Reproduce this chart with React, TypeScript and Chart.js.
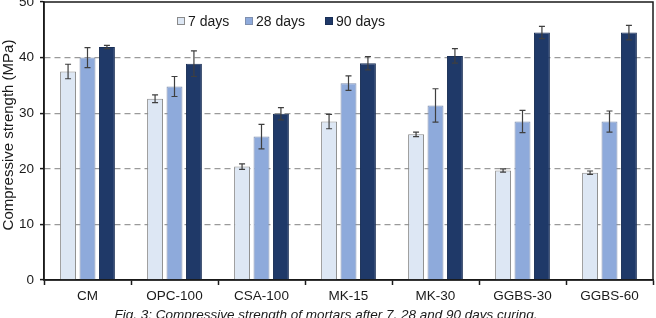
import React, { useEffect, useRef } from "react";
import { Chart, registerables } from "chart.js";

Chart.register(...registerables);

const mixes = ["CM", "OPC-100", "CSA-100", "MK-15", "MK-30", "GGBS-30", "GGBS-60"];
const seriesNames = ["7 days", "28 days", "90 days"];

const days7 = [37.5, 32.6, 20.4, 28.5, 26.2, 19.7, 19.3];
const days28 = [40.0, 34.8, 25.8, 35.4, 31.4, 28.5, 28.5];
const days90 = [41.9, 38.9, 29.9, 39.0, 40.3, 44.5, 44.5];

const err7 = [1.3, 0.7, 0.5, 1.3, 0.4, 0.3, 0.3];
const err28 = [1.8, 1.8, 2.2, 1.3, 3.0, 2.0, 1.9];
const err90 = [0.3, 2.3, 1.1, 1.2, 1.3, 1.1, 1.3];

const yTicks = [0, 10, 20, 30, 40, 50];

const fills = ["#dde7f4", "#8eaadb", "#1f3968"];
const edges = ["#8a8a8a", "#7f8fae", "#1a2f56"];

const caption = "Fig. 3: Compressive strength of mortars after 7, 28 and 90 days curing.";
const yTitle = "Compressive strength (MPa)";

const FONT = "'Liberation Sans', Arial, sans-serif";

const errorBars = {
  id: "errorBars",
  afterDatasetsDraw(chart: any) {
    const { ctx } = chart;
    const y = chart.scales.y;
    ctx.save();
    ctx.strokeStyle = "#3f3f3f";
    ctx.lineWidth = 1.2;
    chart.data.datasets.forEach((ds: any, i: number) => {
      const meta = chart.getDatasetMeta(i);
      meta.data.forEach((bar: any, j: number) => {
        const v = ds.data[j];
        const e = ds.errors[j];
        const top = y.getPixelForValue(v + e);
        const bot = y.getPixelForValue(v - e);
        const x = bar.x;
        ctx.beginPath();
        ctx.moveTo(x, top);
        ctx.lineTo(x, bot);
        ctx.moveTo(x - 3, top);
        ctx.lineTo(x + 3, top);
        ctx.moveTo(x - 3, bot);
        ctx.lineTo(x + 3, bot);
        ctx.stroke();
      });
    });
    ctx.restore();
  },
};

// legend entries sit at fixed spots across the top of the plot
const legendX = [177, 245, 325];

const frameAndText = {
  id: "frameAndText",
  afterDraw(chart: any) {
    const { ctx, chartArea: a } = chart;
    ctx.save();
    // plot frame
    ctx.strokeStyle = "#1a1a1a";
    ctx.lineWidth = 1.5;
    ctx.strokeRect(a.left, a.top, a.right - a.left, a.bottom - a.top);

    // legend
    ctx.font = `14px ${FONT}`;
    ctx.textBaseline = "middle";
    ctx.textAlign = "left";
    const ly = 21;
    chart.data.datasets.forEach((ds: any, i: number) => {
      const lx = legendX[i];
      ctx.fillStyle = fills[i];
      ctx.fillRect(lx, ly - 4, 8, 8);
      ctx.strokeStyle = edges[i];
      ctx.lineWidth = 1;
      ctx.strokeRect(lx + 0.5, ly - 3.5, 7, 7);
      ctx.fillStyle = "#1a1a1a";
      ctx.fillText(ds.label, lx + 11, ly + 1);
    });

    // y axis title
    ctx.save();
    ctx.translate(9, 135);
    ctx.rotate(-Math.PI / 2);
    ctx.textAlign = "center";
    ctx.font = `15px ${FONT}`;
    ctx.fillStyle = "#1a1a1a";
    ctx.fillText(yTitle, 0, 0);
    ctx.restore();

    // caption
    ctx.font = `italic 13.5px ${FONT}`;
    ctx.textAlign = "center";
    ctx.textBaseline = "alphabetic";
    ctx.fillStyle = "#1a1a1a";
    ctx.fillText(caption, 326, 319);
    ctx.restore();
  },
};

export default function App() {
  const ref = useRef<HTMLCanvasElement>(null);

  useEffect(() => {
    document.body.style.margin = "0";
    const values = [days7, days28, days90];
    const errors = [err7, err28, err90];
    const chart = new Chart(ref.current!, {
      type: "bar",
      data: {
        labels: mixes,
        datasets: seriesNames.map((name, i) => ({
          label: name,
          data: values[i],
          errors: errors[i],
          backgroundColor: fills[i],
          borderColor: edges[i],
          borderWidth: 1,
          barPercentage: 0.82,
          categoryPercentage: 0.67,
        })) as any,
      },
      options: {
        animation: false,
        responsive: false,
        maintainAspectRatio: false,
        devicePixelRatio: 1,
        layout: { padding: { top: 2, right: 3, left: 0, bottom: 0 } },
        plugins: {
          legend: { display: false },
          tooltip: { enabled: false },
        },
        scales: {
          x: {
            afterFit(scale: any) {
              scale.height = 38;
              scale.paddingLeft = 0;
              scale.paddingRight = 0;
            },
            grid: {
              offset: true,
              drawOnChartArea: false,
              drawTicks: true,
              tickLength: 5,
              tickColor: "#1a1a1a",
              tickWidth: 1.5,
            },
            border: { display: true, color: "#1a1a1a", width: 1.5 },
            ticks: {
              color: "#1a1a1a",
              font: { family: FONT, size: 13.5 },
              padding: 3,
              maxRotation: 0,
              autoSkip: false,
            },
          },
          y: {
            min: 0,
            max: 50,
            afterFit(scale: any) {
              scale.width = 44;
              scale.paddingTop = 0;
              scale.paddingBottom = 0;
            },
            afterBuildTicks(scale: any) {
              scale.ticks = yTicks.map((v) => ({ value: v }));
            },
            grid: {
              color: (c: any) =>
                c.tick && (c.tick.value === 0 || c.tick.value === 50) ? "rgba(0,0,0,0)" : "#9a9a9a",
              lineWidth: 1.2,
              drawTicks: true,
              tickLength: 4,
              tickColor: "#1a1a1a",
              tickWidth: 1.5,
            },
            border: { display: true, color: "#1a1a1a", width: 1.5, dash: [6, 4] },
            ticks: {
              color: "#1a1a1a",
              font: { family: FONT, size: 13.5 },
              padding: 6,
            },
          },
        },
      },
      plugins: [errorBars, frameAndText],
    });
    return () => chart.destroy();
  }, []);

  return (
    <div style={{ position: "fixed", left: 0, top: 0, width: 656, height: 318, background: "#fff" }}>
      <canvas ref={ref} width={656} height={318} style={{ display: "block" }} />
    </div>
  );
}
